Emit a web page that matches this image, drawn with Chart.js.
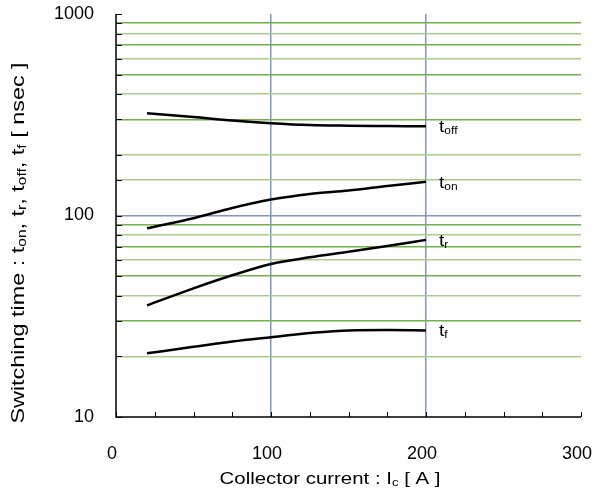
<!DOCTYPE html>
<html>
<head>
<meta charset="utf-8">
<script src="https://cdn.jsdelivr.net/npm/chart.js@4/dist/chart.umd.min.js"></script>
<style>
html,body{margin:0;padding:0;background:#fff;}
#wrap{width:595px;height:495px;}
</style>
</head>
<body>
<div id="wrap"><canvas id="c" width="595" height="495"></canvas></div>
<script>
// ---- data ----
const current = [20, 50, 75, 100, 125, 150, 175, 200];
const tOff = [322, 308, 296, 287, 281, 279, 278, 277];
const tOn  = [86.5, 97, 109, 120, 128, 133, 140, 147];
const tR   = [35.8, 43.5, 50.5, 57.5, 62, 66, 70.5, 75.7];
const tF   = [20.7, 22.3, 23.7, 24.9, 26.1, 26.9, 27.0, 26.9];
const yTickLabels = [10, 100, 1000];
const xTickLabels = [0, 100, 200, 300];
const seriesNames = [['t','off'], ['t','on'], ['t','r'], ['t','f']];

const FONT = '"Liberation Sans", Arial, sans-serif';
const BLUE = '#7f97c4';
const GREEN_D = '#74b04a';
const GREEN_L = '#a7cf8a';

function mk(data){
  return {data: current.map((x,i)=>({x:x,y:data[i]})), borderColor:'#000', borderWidth:2.5,
    pointRadius:0, tension:0.4, cubicInterpolationMode:'monotone', fill:false};
}

function drawRich(ctx, parts, x, y, size, subSize, align, stretch){
  ctx.save();
  ctx.translate(x, y);
  ctx.scale(stretch, 1);
  let total = 0;
  const widths = parts.map(p=>{ctx.font = (p[1]?subSize:size)+'px '+FONT; const w=ctx.measureText(p[0]).width; total+=w; return w;});
  let cx = align==='center' ? -total/2 : 0;
  parts.forEach((p,i)=>{
    ctx.font = (p[1]?subSize:size)+'px '+FONT;
    ctx.fillText(p[0], cx, p[1] ? 2 : 0);
    cx += widths[i];
  });
  ctx.restore();
}

const decor = {
  id:'decor',
  afterDatasetsDraw(chart){
    const ctx = chart.ctx;
    const xs = chart.scales.x, ys = chart.scales.y;
    ctx.save();
    ctx.strokeStyle = '#000'; ctx.lineWidth = 1.5;
    ctx.beginPath();
    ctx.moveTo(xs.left, ys.top); ctx.lineTo(xs.left, ys.bottom); ctx.lineTo(xs.right, ys.bottom);
    ctx.stroke();
    ctx.lineWidth = 1;
    ys.ticks.forEach(t=>{
      const py = Math.round(ys.getPixelForValue(t.value))+0.5;
      ctx.beginPath(); ctx.moveTo(xs.left, py); ctx.lineTo(xs.left+6, py); ctx.stroke();
    });
    xs.ticks.forEach(t=>{
      const px = Math.round(xs.getPixelForValue(t.value))+0.5;
      ctx.beginPath(); ctx.moveTo(px, ys.bottom); ctx.lineTo(px, ys.bottom-5); ctx.stroke();
    });
    ctx.fillStyle = '#000';
    ctx.textBaseline = 'alphabetic';
    ctx.textAlign = 'left';
    const sets = [tOff, tOn, tR, tF];
    sets.forEach((s,i)=>{
      const py = ys.getPixelForValue(s[s.length-1]);
      const px = xs.getPixelForValue(current[current.length-1]);
      drawRich(ctx, [[seriesNames[i][0],false],[seriesNames[i][1],true]], px+13, py+6, 16, 10, 'left', 1.2);
    });
    drawRich(ctx, [['Collector current : I',false],['c',true],[' [ A ]',false]], 330, 484, 17, 11, 'center', 1.2);
    ctx.save();
    ctx.translate(24, 243);
    ctx.rotate(-Math.PI/2);
    drawRich(ctx, [['Switching time : t',false],['on',true],[', t',false],['r',true],[', t',false],['off',true],[', t',false],['f',true],[' [ nsec ]',false]], 0, 0, 18, 12, 'center', 1.3);
    ctx.restore();
    ctx.restore();
  }
};

new Chart(document.getElementById('c'), {
  type:'line',
  data:{datasets:[mk(tOff), mk(tOn), mk(tR), mk(tF)]},
  options:{
    responsive:false, animation:false,
    layout:{padding:{top:14, right:14, left:0, bottom:0}},
    plugins:{legend:{display:false}, tooltip:{enabled:false}},
    scales:{
      x:{type:'linear', min:0, max:300,
        ticks:{stepSize:25, autoSkip:false, padding:26, labelOffset:-4, color:'#000', maxRotation:0,
          font:{family:FONT, size:18},
          callback:(v)=> xTickLabels.includes(v) ? String(v) : ''},
        grid:{drawTicks:false, lineWidth:1.5,
          color:(c)=> (c.tick && (c.tick.value===100 || c.tick.value===200)) ? BLUE : 'rgba(0,0,0,0)'},
        border:{display:false},
        afterFit:(s)=>{s.height = 78; s.paddingLeft = 0; s.paddingRight = 0;}
      },
      y:{type:'logarithmic', min:10, max:1000,
        ticks:{padding:22, color:'#000', autoSkip:false, font:{family:FONT, size:18},
          callback:(v)=> yTickLabels.includes(v) ? String(v) : ''},
        grid:{drawTicks:false, lineWidth:1.5,
          color:(c)=>{
            if(!c.tick) return 'rgba(0,0,0,0)';
            const v = c.tick.value;
            if(v===100) return BLUE;
            if(v===10 || v===1000) return 'rgba(0,0,0,0)';
            const m = Math.round(v/Math.pow(10, Math.floor(Math.log10(v)+1e-9)));
            return (m%2===1) ? GREEN_D : GREEN_L;
          }},
        border:{display:false},
        afterFit:(s)=>{s.width = 116; s.paddingTop = 0; s.paddingBottom = 0;}
      }
    }
  },
  plugins:[decor]
});
</script>
</body>
</html>
